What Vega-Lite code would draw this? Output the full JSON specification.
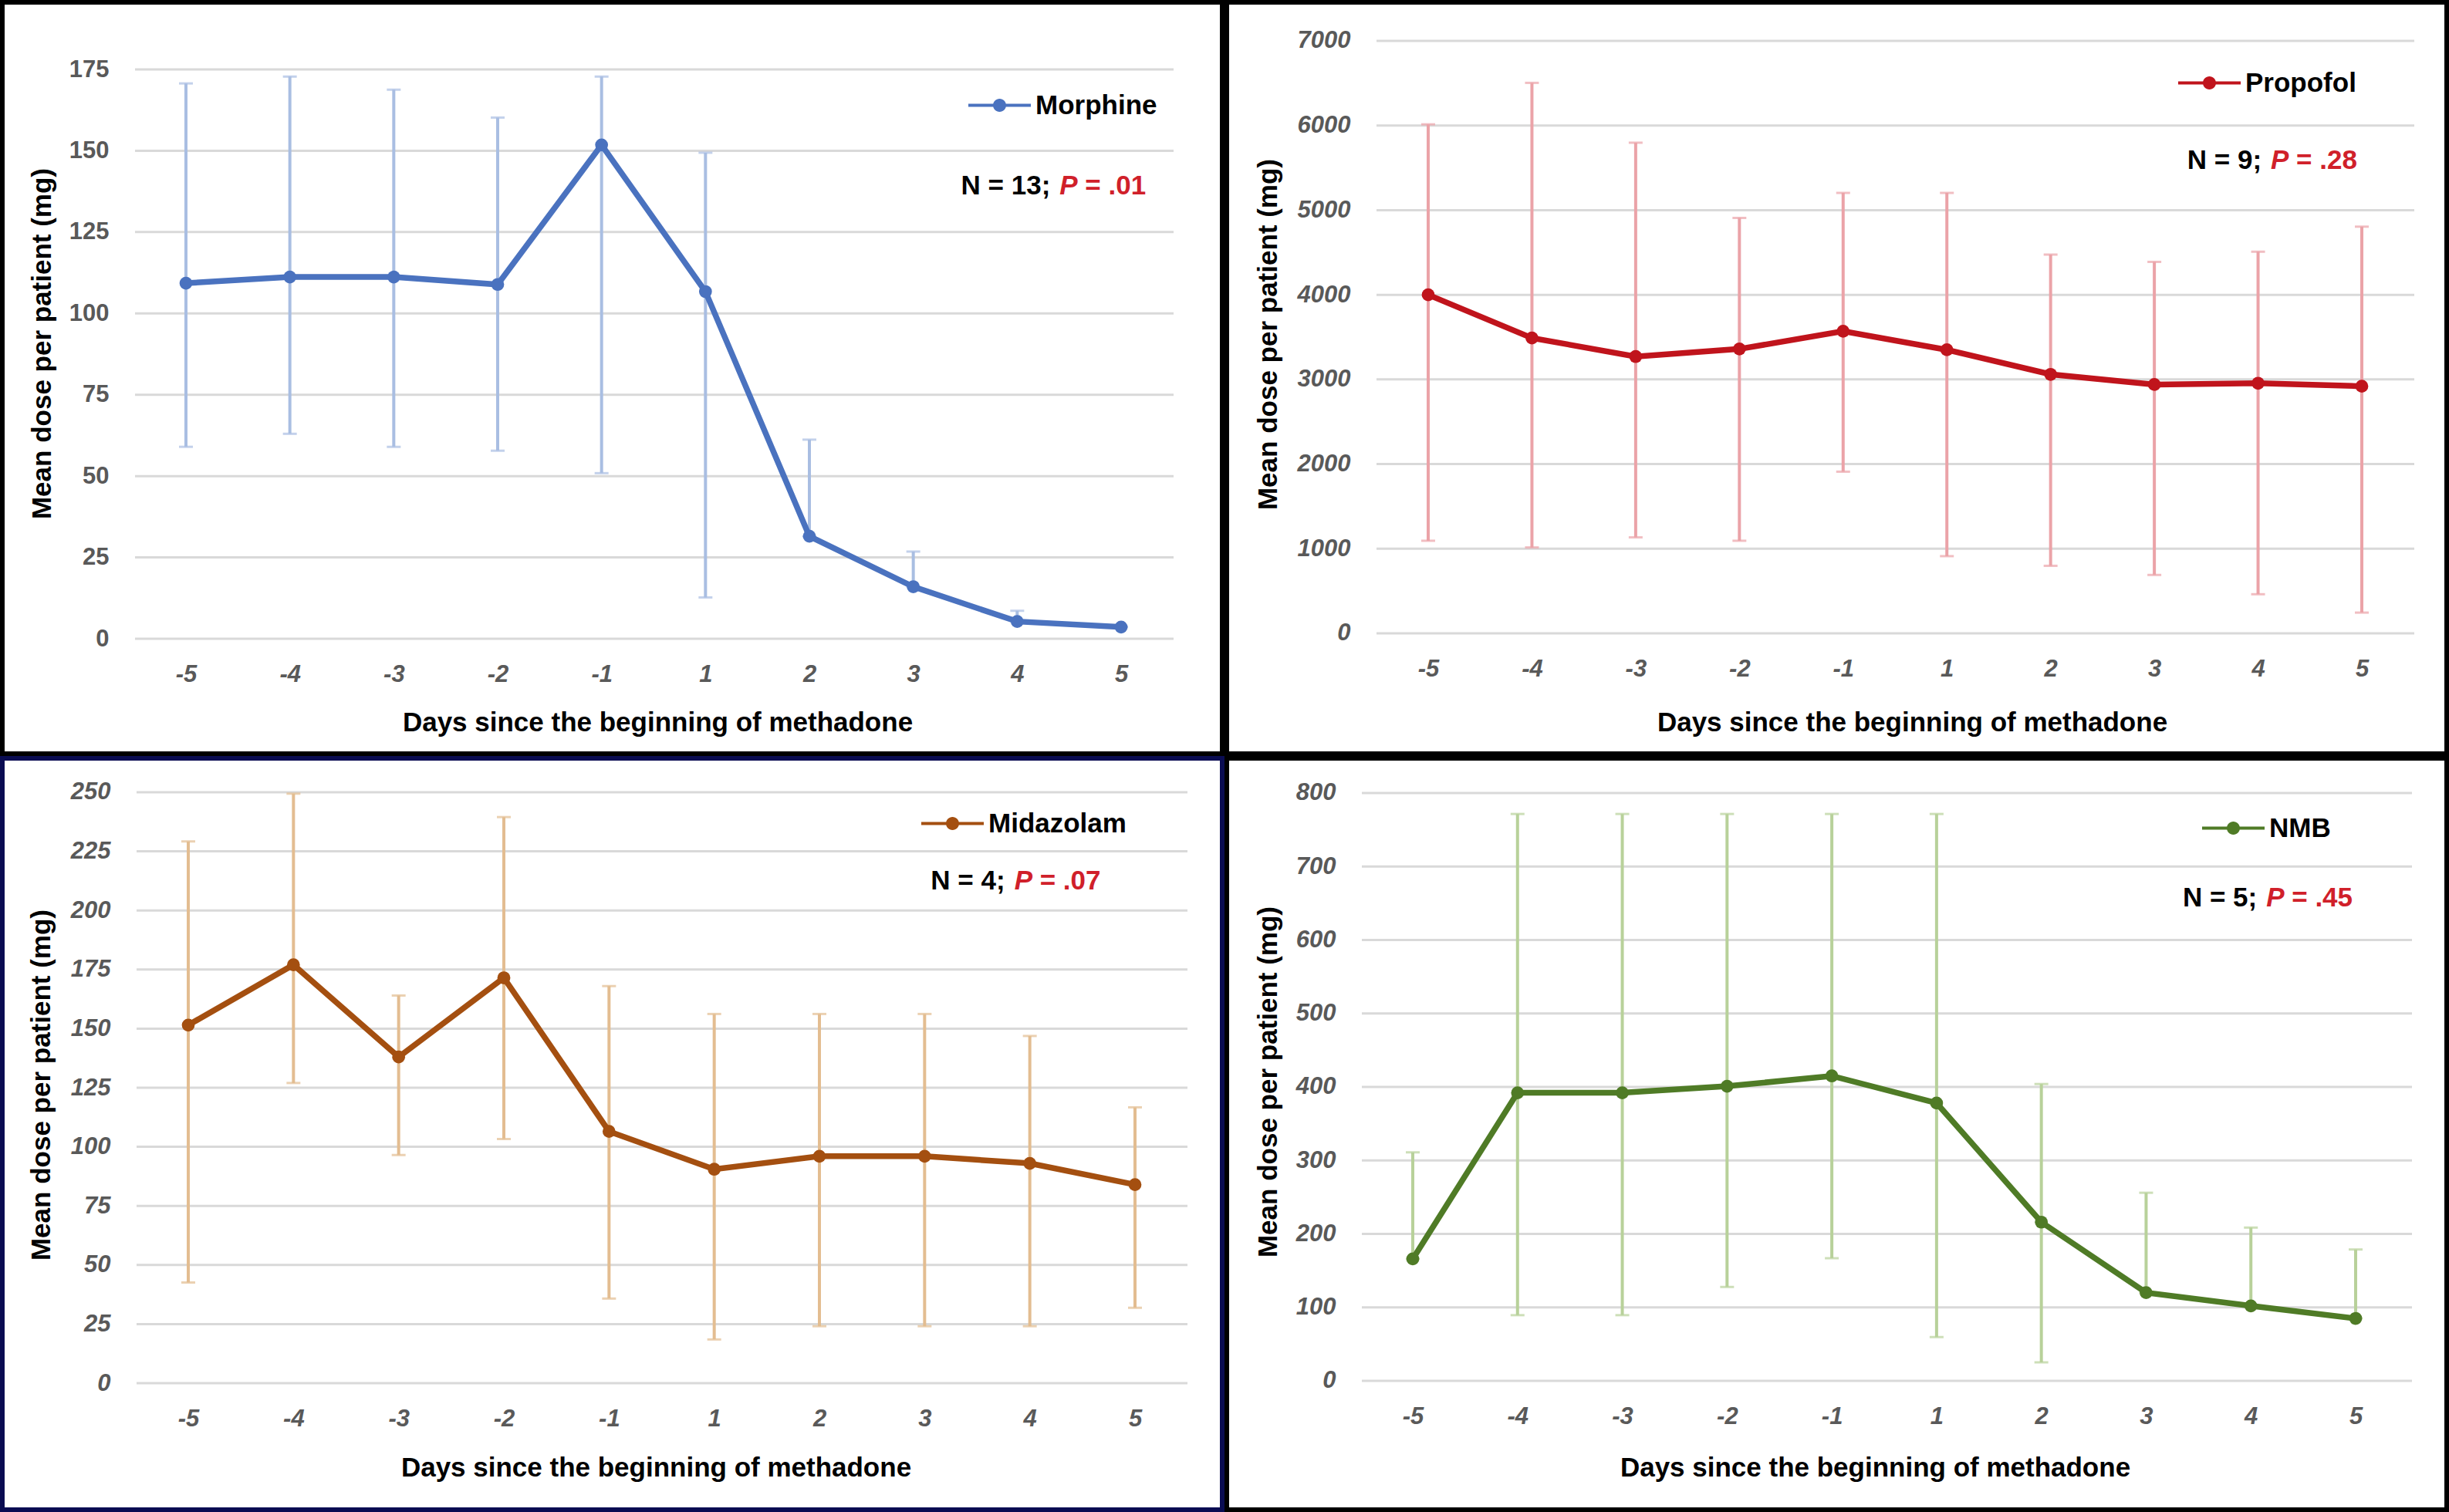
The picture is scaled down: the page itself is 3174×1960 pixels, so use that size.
{
  "$schema": "https://vega.github.io/schema/vega-lite/v6.json",
  "padding": 0,
  "background": "white",
  "spacing": 0,
  "resolve": {
    "scale": {"x": "independent", "y": "independent", "color": "independent"},
    "axis": {"x": "independent", "y": "independent"},
    "legend": {"color": "independent"}
  },
  "vconcat": [
    {
      "spacing": 6,
      "bounds": "flush",
      "resolve": {
        "scale": {"x": "independent", "y": "independent", "color": "independent"},
        "axis": {"x": "independent", "y": "independent"},
        "legend": {"color": "independent"}
      },
      "hconcat": [
        {
          "width": 1581,
          "height": 974,
          "view": {"stroke": "#000000", "strokeWidth": 6, "fill": "white"},
          "data": {"values": [
            {"day": -5, "mean": 109.3, "lo": 59, "hi": 170.7, "drug": "Morphine"},
            {"day": -4, "mean": 111.2, "lo": 63, "hi": 172.8, "drug": "Morphine"},
            {"day": -3, "mean": 111.2, "lo": 59, "hi": 168.8, "drug": "Morphine"},
            {"day": -2, "mean": 108.9, "lo": 57.8, "hi": 160.2, "drug": "Morphine"},
            {"day": -1, "mean": 151.8, "lo": 50.9, "hi": 172.8, "drug": "Morphine"},
            {"day": 1, "mean": 106.7, "lo": 12.7, "hi": 149.4, "drug": "Morphine"},
            {"day": 2, "mean": 31.5, "lo": 31.5, "hi": 61.2, "drug": "Morphine"},
            {"day": 3, "mean": 16, "lo": 16, "hi": 26.8, "drug": "Morphine"},
            {"day": 4, "mean": 5.3, "lo": 5.3, "hi": 8.6, "drug": "Morphine"},
            {"day": 5, "mean": 3.6, "lo": 3.6, "hi": 3.6, "drug": "Morphine"}
          ]},
          "encoding": {
            "x": {
              "field": "day", "type": "ordinal",
              "scale": {"type": "point", "padding": 0, "range": [238, 1450]},
              "axis": {"offset": -149, "title": "Days since the beginning of methadone", "titleX": 849, "titleY": 119}
            },
            "y": {
              "field": "mean", "type": "quantitative",
              "scale": {"domain": [-35.33, 195.63], "nice": false, "zero": false},
              "axis": {"offset": -172, "format": "d", "values": [0, 25, 50, 75, 100, 125, 150, 175], "labelFontStyle": "normal", "title": "Mean dose per patient (mg)", "titleX": -121, "titleY": 442}
            }
          },
          "layer": [
            {
              "data": {"values": [{"v": 0}, {"v": 25}, {"v": 50}, {"v": 75}, {"v": 100}, {"v": 125}, {"v": 150}, {"v": 175}]},
              "mark": {"type": "rule", "color": "#d9d9d9", "strokeWidth": 3, "xOffset": -66, "x2Offset": 68},
              "encoding": {
                "x": {"datum": -5, "type": "ordinal"},
                "x2": {"datum": 5},
                "y": {"field": "v", "type": "quantitative"}
              }
            },
            {
              "mark": {"type": "rule", "color": "#a9bee2", "strokeWidth": 4},
              "encoding": {"y": {"field": "lo", "type": "quantitative"}, "y2": {"field": "hi"}}
            },
            {
              "mark": {"type": "tick", "color": "#a9bee2", "size": 18, "thickness": 3},
              "encoding": {"y": {"field": "hi", "type": "quantitative"}}
            },
            {
              "mark": {"type": "tick", "color": "#a9bee2", "size": 18, "thickness": 3},
              "encoding": {"y": {"field": "lo", "type": "quantitative"}}
            },
            {"mark": {"type": "line", "color": "#4a72bf", "strokeWidth": 7.5}},
            {
              "mark": {"type": "point", "filled": true, "size": 280, "opacity": 1},
              "encoding": {
                "color": {"field": "drug", "type": "nominal", "scale": {"range": ["#4a72bf"]},
                  "legend": {"title": null, "legendX": 1252, "legendY": 93}}
              }
            },
            {
              "transform": [{"filter": "datum.day == 4"}],
              "mark": {"type": "text", "align": "right", "dx": 43, "fontSize": 35, "fontWeight": "bold", "color": "#000000", "baseline": "alphabetic"},
              "encoding": {"y": {"datum": 136.6}, "text": {"value": "N = 13;"}}
            },
            {
              "transform": [{"filter": "datum.day == 4"}],
              "mark": {"type": "text", "align": "left", "dx": 55, "fontSize": 35, "fontWeight": "bold", "fontStyle": "italic", "color": "#d0202a", "baseline": "alphabetic"},
              "encoding": {"y": {"datum": 136.6}, "text": {"value": "P"}}
            },
            {
              "transform": [{"filter": "datum.day == 4"}],
              "mark": {"type": "text", "align": "left", "dx": 88, "fontSize": 35, "fontWeight": "bold", "color": "#d0202a", "baseline": "alphabetic"},
              "encoding": {"y": {"datum": 136.6}, "text": {"value": "= .01"}}
            }
          ]
        },
        {
          "width": 1581,
          "height": 974,
          "view": {"stroke": "#000000", "strokeWidth": 6, "fill": "white"},
          "data": {"values": [
            {"day": -5, "mean": 4000, "lo": 1094, "hi": 6014, "drug": "Propofol"},
            {"day": -4, "mean": 3490, "lo": 1015, "hi": 6504, "drug": "Propofol"},
            {"day": -3, "mean": 3270, "lo": 1134, "hi": 5797, "drug": "Propofol"},
            {"day": -2, "mean": 3360, "lo": 1094, "hi": 4908, "drug": "Propofol"},
            {"day": -1, "mean": 3570, "lo": 1910, "hi": 5204, "drug": "Propofol"},
            {"day": 1, "mean": 3350, "lo": 912, "hi": 5204, "drug": "Propofol"},
            {"day": 2, "mean": 3060, "lo": 798, "hi": 4475, "drug": "Propofol"},
            {"day": 3, "mean": 2940, "lo": 690, "hi": 4389, "drug": "Propofol"},
            {"day": 4, "mean": 2955, "lo": 462, "hi": 4509, "drug": "Propofol"},
            {"day": 5, "mean": 2920, "lo": 245, "hi": 4805, "drug": "Propofol"}
          ]},
          "encoding": {
            "x": {
              "field": "day", "type": "ordinal",
              "scale": {"type": "point", "padding": 0, "range": [261, 1471]},
              "axis": {"offset": -156, "title": "Days since the beginning of methadone", "titleX": 888, "titleY": 126}
            },
            "y": {
              "field": "mean", "type": "quantitative",
              "scale": {"domain": [-1421.9, 7455.7], "nice": false, "zero": false},
              "axis": {"offset": -194, "format": "d", "values": [0, 1000, 2000, 3000, 4000, 5000, 6000, 7000], "title": "Mean dose per patient (mg)", "titleX": -141, "titleY": 430}
            }
          },
          "layer": [
            {
              "data": {"values": [{"v": 0}, {"v": 1000}, {"v": 2000}, {"v": 3000}, {"v": 4000}, {"v": 5000}, {"v": 6000}, {"v": 7000}]},
              "mark": {"type": "rule", "color": "#d9d9d9", "strokeWidth": 3, "xOffset": -67, "x2Offset": 68},
              "encoding": {
                "x": {"datum": -5, "type": "ordinal"},
                "x2": {"datum": 5},
                "y": {"field": "v", "type": "quantitative"}
              }
            },
            {
              "mark": {"type": "rule", "color": "#eba3a8", "strokeWidth": 4},
              "encoding": {"y": {"field": "lo", "type": "quantitative"}, "y2": {"field": "hi"}}
            },
            {
              "mark": {"type": "tick", "color": "#eba3a8", "size": 18, "thickness": 3},
              "encoding": {"y": {"field": "hi", "type": "quantitative"}}
            },
            {
              "mark": {"type": "tick", "color": "#eba3a8", "size": 18, "thickness": 3},
              "encoding": {"y": {"field": "lo", "type": "quantitative"}}
            },
            {"mark": {"type": "line", "color": "#c0141c", "strokeWidth": 7.5}},
            {
              "mark": {"type": "point", "filled": true, "size": 280, "opacity": 1},
              "encoding": {
                "color": {"field": "drug", "type": "nominal", "scale": {"range": ["#c0141c"]},
                  "legend": {"title": null, "legendX": 1233, "legendY": 64}}
              }
            },
            {
              "transform": [{"filter": "datum.day == 4"}],
              "mark": {"type": "text", "align": "right", "dx": 4.5, "fontSize": 35, "fontWeight": "bold", "color": "#000000", "baseline": "alphabetic"},
              "encoding": {"y": {"datum": 5487}, "text": {"value": "N = 9;"}}
            },
            {
              "transform": [{"filter": "datum.day == 4"}],
              "mark": {"type": "text", "align": "left", "dx": 16.5, "fontSize": 35, "fontWeight": "bold", "fontStyle": "italic", "color": "#d0202a", "baseline": "alphabetic"},
              "encoding": {"y": {"datum": 5487}, "text": {"value": "P"}}
            },
            {
              "transform": [{"filter": "datum.day == 4"}],
              "mark": {"type": "text", "align": "left", "dx": 49.5, "fontSize": 35, "fontWeight": "bold", "color": "#d0202a", "baseline": "alphabetic"},
              "encoding": {"y": {"datum": 5487}, "text": {"value": "= .28"}}
            }
          ]
        }
      ]
    },
    {
      "spacing": 6,
      "bounds": "flush",
      "resolve": {
        "scale": {"x": "independent", "y": "independent", "color": "independent"},
        "axis": {"x": "independent", "y": "independent"},
        "legend": {"color": "independent"}
      },
      "hconcat": [
        {
          "width": 1581,
          "height": 974,
          "view": {"stroke": "#0a0c52", "strokeWidth": 6, "fill": "white"},
          "data": {"values": [
            {"day": -5, "mean": 151.5, "lo": 42.6, "hi": 229.2, "drug": "Midazolam"},
            {"day": -4, "mean": 177, "lo": 127, "hi": 249.4, "drug": "Midazolam"},
            {"day": -3, "mean": 138, "lo": 96.5, "hi": 164, "drug": "Midazolam"},
            {"day": -2, "mean": 171.5, "lo": 103.3, "hi": 239.5, "drug": "Midazolam"},
            {"day": -1, "mean": 106.5, "lo": 35.8, "hi": 168, "drug": "Midazolam"},
            {"day": 1, "mean": 90.5, "lo": 18.5, "hi": 156.2, "drug": "Midazolam"},
            {"day": 2, "mean": 96, "lo": 24.1, "hi": 156.2, "drug": "Midazolam"},
            {"day": 3, "mean": 96, "lo": 24.1, "hi": 156.2, "drug": "Midazolam"},
            {"day": 4, "mean": 93, "lo": 24.1, "hi": 146.9, "drug": "Midazolam"},
            {"day": 5, "mean": 84, "lo": 31.9, "hi": 116.7, "drug": "Midazolam"}
          ]},
          "encoding": {
            "x": {
              "field": "day", "type": "ordinal",
              "scale": {"type": "point", "padding": 0, "range": [241, 1468]},
              "axis": {"offset": -164, "title": "Days since the beginning of methadone", "titleX": 847, "titleY": 120}
            },
            "y": {
              "field": "mean", "type": "quantitative",
              "scale": {"domain": [-53.52, 264.36], "nice": false, "zero": false},
              "axis": {"offset": -174, "format": "d", "values": [0, 25, 50, 75, 100, 125, 150, 175, 200, 225, 250], "title": "Mean dose per patient (mg)", "titleX": -124, "titleY": 423}
            }
          },
          "layer": [
            {
              "data": {"values": [{"v": 0}, {"v": 25}, {"v": 50}, {"v": 75}, {"v": 100}, {"v": 125}, {"v": 150}, {"v": 175}, {"v": 200}, {"v": 225}, {"v": 250}]},
              "mark": {"type": "rule", "color": "#d9d9d9", "strokeWidth": 3, "xOffset": -67, "x2Offset": 68},
              "encoding": {
                "x": {"datum": -5, "type": "ordinal"},
                "x2": {"datum": 5},
                "y": {"field": "v", "type": "quantitative"}
              }
            },
            {
              "mark": {"type": "rule", "color": "#e3bd91", "strokeWidth": 4},
              "encoding": {"y": {"field": "lo", "type": "quantitative"}, "y2": {"field": "hi"}}
            },
            {
              "mark": {"type": "tick", "color": "#e3bd91", "size": 18, "thickness": 3},
              "encoding": {"y": {"field": "hi", "type": "quantitative"}}
            },
            {
              "mark": {"type": "tick", "color": "#e3bd91", "size": 18, "thickness": 3},
              "encoding": {"y": {"field": "lo", "type": "quantitative"}}
            },
            {"mark": {"type": "line", "color": "#a44f10", "strokeWidth": 7.5}},
            {
              "mark": {"type": "point", "filled": true, "size": 280, "opacity": 1},
              "encoding": {
                "color": {"field": "drug", "type": "nominal", "scale": {"range": ["#a44f10"]},
                  "legend": {"title": null, "legendX": 1191, "legendY": 44}}
              }
            },
            {
              "transform": [{"filter": "datum.day == 4"}],
              "mark": {"type": "text", "align": "right", "dx": -32, "fontSize": 35, "fontWeight": "bold", "color": "#000000", "baseline": "alphabetic"},
              "encoding": {"y": {"datum": 208.9}, "text": {"value": "N = 4;"}}
            },
            {
              "transform": [{"filter": "datum.day == 4"}],
              "mark": {"type": "text", "align": "left", "dx": -20, "fontSize": 35, "fontWeight": "bold", "fontStyle": "italic", "color": "#d0202a", "baseline": "alphabetic"},
              "encoding": {"y": {"datum": 208.9}, "text": {"value": "P"}}
            },
            {
              "transform": [{"filter": "datum.day == 4"}],
              "mark": {"type": "text", "align": "left", "dx": 13, "fontSize": 35, "fontWeight": "bold", "color": "#d0202a", "baseline": "alphabetic"},
              "encoding": {"y": {"datum": 208.9}, "text": {"value": "= .07"}}
            }
          ]
        },
        {
          "width": 1581,
          "height": 974,
          "view": {"stroke": "#000000", "strokeWidth": 6, "fill": "white"},
          "data": {"values": [
            {"day": -5, "mean": 166, "lo": 166, "hi": 311, "drug": "NMB"},
            {"day": -4, "mean": 392, "lo": 89.4, "hi": 771.5, "drug": "NMB"},
            {"day": -3, "mean": 392, "lo": 89.4, "hi": 771.5, "drug": "NMB"},
            {"day": -2, "mean": 401, "lo": 127.8, "hi": 771.5, "drug": "NMB"},
            {"day": -1, "mean": 415, "lo": 166.9, "hi": 771.5, "drug": "NMB"},
            {"day": 1, "mean": 378, "lo": 59.6, "hi": 771.5, "drug": "NMB"},
            {"day": 2, "mean": 216, "lo": 25.2, "hi": 404, "drug": "NMB"},
            {"day": 3, "mean": 120, "lo": 120, "hi": 256, "drug": "NMB"},
            {"day": 4, "mean": 102, "lo": 102, "hi": 208.6, "drug": "NMB"},
            {"day": 5, "mean": 85, "lo": 85, "hi": 178.8, "drug": "NMB"}
          ]},
          "encoding": {
            "x": {
              "field": "day", "type": "ordinal",
              "scale": {"type": "point", "padding": 0, "range": [241, 1463]},
              "axis": {"offset": -167, "title": "Days since the beginning of methadone", "titleX": 840, "titleY": 123}
            },
            "y": {
              "field": "mean", "type": "quantitative",
              "scale": {"domain": [-175.33, 847.24], "nice": false, "zero": false},
              "axis": {"offset": -175, "format": "d", "values": [0, 100, 200, 300, 400, 500, 600, 700, 800], "title": "Mean dose per patient (mg)", "titleX": -122, "titleY": 419}
            }
          },
          "layer": [
            {
              "data": {"values": [{"v": 0}, {"v": 100}, {"v": 200}, {"v": 300}, {"v": 400}, {"v": 500}, {"v": 600}, {"v": 700}, {"v": 800}]},
              "mark": {"type": "rule", "color": "#d9d9d9", "strokeWidth": 3, "xOffset": -66, "x2Offset": 73},
              "encoding": {
                "x": {"datum": -5, "type": "ordinal"},
                "x2": {"datum": 5},
                "y": {"field": "v", "type": "quantitative"}
              }
            },
            {
              "mark": {"type": "rule", "color": "#b8d19a", "strokeWidth": 4},
              "encoding": {"y": {"field": "lo", "type": "quantitative"}, "y2": {"field": "hi"}}
            },
            {
              "mark": {"type": "tick", "color": "#b8d19a", "size": 18, "thickness": 3},
              "encoding": {"y": {"field": "hi", "type": "quantitative"}}
            },
            {
              "mark": {"type": "tick", "color": "#b8d19a", "size": 18, "thickness": 3},
              "encoding": {"y": {"field": "lo", "type": "quantitative"}}
            },
            {"mark": {"type": "line", "color": "#4f7b26", "strokeWidth": 7.5}},
            {
              "mark": {"type": "point", "filled": true, "size": 280, "opacity": 1},
              "encoding": {
                "color": {"field": "drug", "type": "nominal", "scale": {"range": ["#4f7b26"]},
                  "legend": {"title": null, "legendX": 1264, "legendY": 50}}
              }
            },
            {
              "transform": [{"filter": "datum.day == 4"}],
              "mark": {"type": "text", "align": "right", "dx": 8, "fontSize": 35, "fontWeight": "bold", "color": "#000000", "baseline": "alphabetic"},
              "encoding": {"y": {"datum": 645.7}, "text": {"value": "N = 5;"}}
            },
            {
              "transform": [{"filter": "datum.day == 4"}],
              "mark": {"type": "text", "align": "left", "dx": 20, "fontSize": 35, "fontWeight": "bold", "fontStyle": "italic", "color": "#d0202a", "baseline": "alphabetic"},
              "encoding": {"y": {"datum": 645.7}, "text": {"value": "P"}}
            },
            {
              "transform": [{"filter": "datum.day == 4"}],
              "mark": {"type": "text", "align": "left", "dx": 53, "fontSize": 35, "fontWeight": "bold", "color": "#d0202a", "baseline": "alphabetic"},
              "encoding": {"y": {"datum": 645.7}, "text": {"value": "= .45"}}
            }
          ]
        }
      ]
    }
  ],
  "config": {
    "font": "Liberation Sans",
    "axis": {
      "domain": false,
      "ticks": false,
      "tickSize": 0,
      "grid": false,
      "labelFont": "Liberation Sans",
      "labelFontSize": 31,
      "labelFontWeight": "bold",
      "labelFontStyle": "italic",
      "labelColor": "#595959",
      "titleFont": "Liberation Sans",
      "titleFontSize": 35,
      "titleFontWeight": "bold",
      "titleColor": "#000000"
    },
    "axisX": {"labelAngle": 0, "labelPadding": 31, "titleBaseline": "alphabetic"},
    "axisY": {"labelPadding": 34, "titleBaseline": "middle"},
    "legend": {
      "orient": "none",
      "padding": 0,
      "labelFont": "Liberation Sans",
      "labelFontSize": 35,
      "labelFontWeight": "bold",
      "labelColor": "#000000",
      "labelOffset": 6,
      "labelLimit": 500,
      "symbolType": "M-1,-0.05H1V0.05H-1Z M-0.21,0A0.21,0.21 0 1 1 0.21,0A0.21,0.21 0 1 1 -0.21,0Z",
      "symbolSize": 6561,
      "symbolStrokeWidth": 0
    }
  }
}
